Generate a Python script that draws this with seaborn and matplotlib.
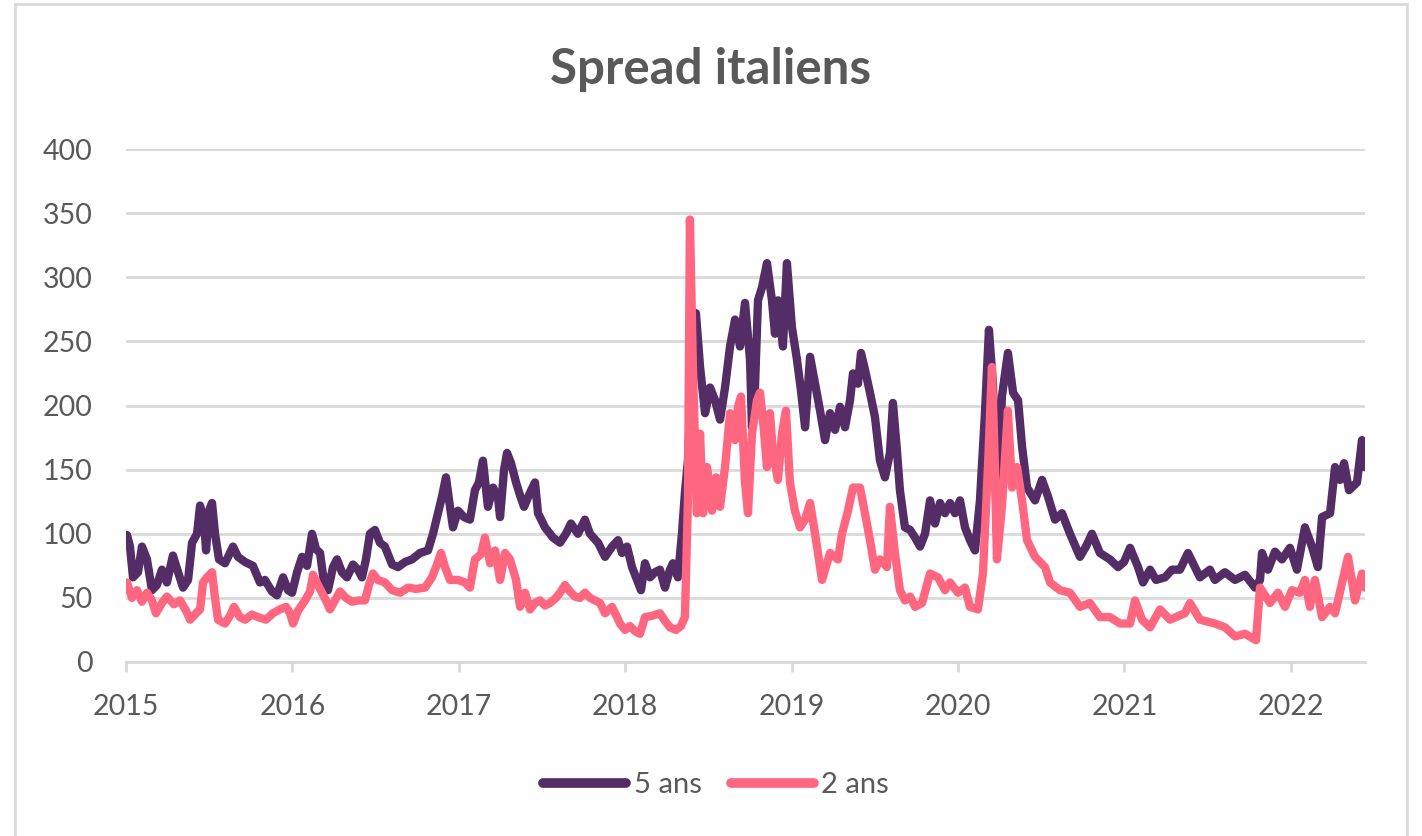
import numpy as np
import pandas as pd
import matplotlib
matplotlib.use("Agg")
import matplotlib.pyplot as plt
import seaborn as sns
from matplotlib.patches import Rectangle

# --- Données (temps en années depuis janv. 2015) ---
t_5ans = [0.006, 0.024, 0.042, 0.072, 0.096, 0.126, 0.156, 0.186, 0.216, 0.246,
          0.282, 0.313, 0.343, 0.373, 0.397, 0.427, 0.445, 0.469, 0.481, 0.499,
          0.517, 0.535, 0.559, 0.595, 0.643, 0.673, 0.715, 0.763, 0.805, 0.835,
          0.877, 0.907, 0.944, 0.974, 0.998, 1.028, 1.058, 1.088, 1.118, 1.142,
          1.166, 1.190, 1.214, 1.244, 1.268, 1.298, 1.328, 1.364, 1.394, 1.418,
          1.442, 1.466, 1.496, 1.526, 1.556, 1.599, 1.635, 1.677, 1.719, 1.767,
          1.815, 1.845, 1.869, 1.899, 1.923, 1.947, 1.965, 1.995, 2.031, 2.067,
          2.097, 2.121, 2.145, 2.175, 2.206, 2.236, 2.248, 2.272, 2.290, 2.314,
          2.344, 2.368, 2.392, 2.428, 2.458, 2.476, 2.518, 2.566, 2.608, 2.644,
          2.674, 2.716, 2.758, 2.788, 2.837, 2.879, 2.921, 2.957, 2.981, 3.011,
          3.041, 3.077, 3.095, 3.119, 3.149, 3.179, 3.209, 3.239, 3.269, 3.287,
          3.317, 3.341, 3.359, 3.377, 3.401, 3.425, 3.450, 3.480, 3.510, 3.540,
          3.570, 3.600, 3.630, 3.660, 3.690, 3.720, 3.750, 3.762, 3.780, 3.798,
          3.822, 3.852, 3.882, 3.900, 3.918, 3.948, 3.972, 4.002, 4.032, 4.056,
          4.081, 4.111, 4.141, 4.171, 4.201, 4.231, 4.261, 4.291, 4.321, 4.351,
          4.369, 4.399, 4.417, 4.441, 4.471, 4.501, 4.531, 4.561, 4.591, 4.609,
          4.633, 4.651, 4.681, 4.712, 4.742, 4.772, 4.802, 4.832, 4.862, 4.892,
          4.922, 4.952, 4.982, 5.012, 5.042, 5.072, 5.102, 5.132, 5.162, 5.186,
          5.210, 5.234, 5.264, 5.300, 5.331, 5.361, 5.385, 5.415, 5.463, 5.505,
          5.541, 5.583, 5.625, 5.673, 5.733, 5.769, 5.805, 5.853, 5.913, 5.962,
          5.998, 6.034, 6.082, 6.112, 6.154, 6.190, 6.244, 6.286, 6.334, 6.382,
          6.424, 6.454, 6.514, 6.544, 6.604, 6.665, 6.725, 6.785, 6.815, 6.827,
          6.863, 6.905, 6.947, 6.995, 7.037, 7.085, 7.127, 7.163, 7.188, 7.236,
          7.266, 7.296, 7.320, 7.350, 7.398, 7.428, 7.446]
v_5ans = [99, 90, 66, 70, 90, 80, 56, 60, 72, 62,
          83, 70, 58, 64, 93, 100, 122, 110, 87, 118,
          124, 100, 80, 77, 90, 82, 78, 75, 62, 64,
          55, 52, 66, 56, 54, 70, 82, 75, 100, 88,
          85, 62, 56, 74, 80, 70, 66, 76, 72, 66,
          80, 100, 103, 93, 90, 76, 74, 78, 80, 85,
          87, 100, 113, 129, 144, 121, 105, 118, 113, 111,
          134, 140, 157, 121, 136, 128, 113, 150, 163, 155,
          140, 130, 121, 132, 140, 116, 105, 97, 93, 100,
          108, 100, 111, 100, 93, 82, 90, 95, 85, 90,
          74, 62, 56, 77, 66, 70, 72, 58, 72, 77,
          66, 100, 132, 157, 230, 272, 230, 194, 214, 204,
          189, 214, 246, 267, 246, 280, 236, 183, 214, 282,
          292, 311, 282, 256, 282, 246, 311, 261, 236, 212,
          183, 238, 217, 196, 173, 194, 181, 199, 183, 204,
          225, 217, 241, 228, 210, 191, 157, 144, 163, 202,
          165, 134, 105, 103, 97, 90, 100, 126, 108, 124,
          116, 124, 116, 126, 105, 95, 87, 126, 194, 259,
          217, 100, 207, 241, 210, 204, 168, 136, 126, 142,
          129, 111, 116, 100, 82, 90, 100, 85, 80, 74,
          78, 89, 74, 62, 72, 64, 66, 72, 72, 85,
          74, 66, 72, 64, 70, 64, 68, 58, 64, 85,
          72, 86, 80, 89, 72, 105, 90, 74, 113, 116,
          152, 142, 155, 134, 140, 173, 152]

t_2ans = [0.006, 0.036, 0.066, 0.096, 0.126, 0.156, 0.180, 0.216, 0.246, 0.288,
          0.325, 0.361, 0.385, 0.421, 0.445, 0.463, 0.487, 0.517, 0.535, 0.553,
          0.595, 0.625, 0.649, 0.685, 0.715, 0.757, 0.793, 0.841, 0.883, 0.925,
          0.962, 0.986, 1.004, 1.034, 1.076, 1.106, 1.124, 1.154, 1.178, 1.202,
          1.226, 1.256, 1.286, 1.322, 1.358, 1.394, 1.436, 1.460, 1.484, 1.514,
          1.556, 1.599, 1.647, 1.695, 1.743, 1.797, 1.839, 1.869, 1.893, 1.917,
          1.947, 1.995, 2.037, 2.067, 2.097, 2.133, 2.157, 2.188, 2.218, 2.248,
          2.278, 2.308, 2.344, 2.368, 2.398, 2.428, 2.458, 2.488, 2.518, 2.548,
          2.584, 2.608, 2.638, 2.668, 2.698, 2.728, 2.758, 2.788, 2.818, 2.849,
          2.879, 2.921, 2.951, 2.969, 2.999, 3.029, 3.059, 3.089, 3.119, 3.161,
          3.209, 3.239, 3.269, 3.305, 3.335, 3.359, 3.377, 3.389, 3.407, 3.431,
          3.450, 3.468, 3.492, 3.522, 3.546, 3.570, 3.600, 3.630, 3.660, 3.678,
          3.696, 3.720, 3.738, 3.762, 3.792, 3.810, 3.828, 3.852, 3.870, 3.888,
          3.918, 3.942, 3.966, 3.990, 4.020, 4.050, 4.081, 4.111, 4.141, 4.183,
          4.231, 4.279, 4.303, 4.339, 4.369, 4.411, 4.441, 4.471, 4.501, 4.531,
          4.573, 4.591, 4.621, 4.651, 4.681, 4.712, 4.742, 4.784, 4.832, 4.880,
          4.922, 4.952, 5.000, 5.042, 5.072, 5.120, 5.150, 5.180, 5.204, 5.222,
          5.234, 5.264, 5.300, 5.325, 5.355, 5.385, 5.415, 5.463, 5.523, 5.553,
          5.613, 5.673, 5.733, 5.793, 5.853, 5.913, 5.974, 6.034, 6.064, 6.106,
          6.154, 6.214, 6.274, 6.364, 6.394, 6.454, 6.544, 6.605, 6.665, 6.725,
          6.791, 6.815, 6.875, 6.923, 6.965, 7.007, 7.055, 7.085, 7.115, 7.145,
          7.188, 7.236, 7.266, 7.344, 7.386, 7.428, 7.446]
v_2ans = [62, 50, 56, 47, 54, 48, 38, 46, 51, 45,
          48, 40, 33, 38, 41, 62, 66, 70, 50, 33,
          30, 36, 43, 35, 33, 37, 35, 33, 38, 41,
          43, 38, 30, 40, 48, 55, 68, 60, 54, 48,
          41, 48, 55, 50, 47, 48, 48, 60, 69, 64,
          62, 56, 54, 58, 57, 58, 66, 76, 85, 74,
          64, 64, 62, 58, 80, 84, 97, 77, 87, 64,
          85, 80, 64, 43, 54, 41, 46, 48, 44, 46,
          50, 54, 60, 55, 51, 50, 54, 50, 48, 46,
          38, 43, 35, 30, 25, 28, 24, 22, 35, 36,
          38, 32, 27, 25, 28, 35, 126, 345, 230, 116,
          178, 116, 152, 118, 144, 121, 152, 194, 173, 199,
          207, 140, 116, 178, 204, 210, 189, 152, 194, 163,
          142, 178, 196, 140, 118, 105, 111, 124, 100, 64,
          85, 80, 100, 118, 136, 136, 116, 95, 72, 80,
          74, 121, 85, 56, 48, 51, 43, 46, 69, 66,
          56, 62, 54, 58, 43, 41, 69, 152, 230, 152,
          80, 121, 196, 136, 152, 126, 95, 82, 74, 62,
          56, 54, 43, 46, 35, 35, 30, 30, 48, 33,
          27, 41, 33, 38, 46, 33, 30, 27, 20, 22,
          17, 58, 46, 54, 43, 56, 54, 64, 43, 64,
          35, 43, 38, 82, 48, 69, 58]

series = ['5 ans', '2 ans']
couleurs = ['#542c66', '#ff6680']
annees = [2015, 2016, 2017, 2018, 2019, 2020, 2021, 2022]

df = pd.concat([
    pd.DataFrame({'annee': 2015 + np.array(t_5ans), 'spread': v_5ans, 'serie': '5 ans'}),
    pd.DataFrame({'annee': 2015 + np.array(t_2ans), 'spread': v_2ans, 'serie': '2 ans'}),
], ignore_index=True)

# --- Graphique ---
sns.set_theme(style='white')
plt.rcParams['font.family'] = ['Lato', 'DejaVu Sans']
gris_texte = '#595959'
gris_ligne = '#d9d9d9'

fig = plt.figure(figsize=(14.22, 8.36), dpi=100)
ax = fig.add_axes([126 / 1422, 1 - 662 / 836, (1365 - 126) / 1422, (662 - 149) / 836])

sns.lineplot(data=df, x='annee', y='spread', hue='serie', hue_order=series,
             palette=couleurs, linewidth=6, estimator=None, ax=ax,
             solid_capstyle='round', solid_joinstyle='round')

ax.set_xlim(2015, 2015 + t_5ans[-1])
ax.set_ylim(0, 400)
ax.set_yticks(range(0, 401, 50))
ax.set_xticks(annees)
ax.set_xticklabels([str(a) for a in annees])
ax.set_xlabel('')
ax.set_ylabel('')

for s in ['top', 'right', 'left']:
    ax.spines[s].set_visible(False)
ax.spines['bottom'].set_color(gris_ligne)
ax.spines['bottom'].set_linewidth(2)
ax.grid(axis='y', color=gris_ligne, linewidth=2)
ax.grid(axis='x', visible=False)
ax.set_axisbelow(True)
ax.tick_params(axis='y', length=0, pad=24, labelsize=20.5, labelcolor=gris_texte)
ax.tick_params(axis='x', direction='out', length=7, width=2, color=gris_ligne,
               pad=16, labelsize=20.5, labelcolor=gris_texte, bottom=True)

fig.text(0.5, 1 - 70 / 836, 'Spread italiens', ha='center', va='center',
         fontsize=35.5, fontweight='bold', color=gris_texte)

handles, labels = ax.get_legend_handles_labels()
ax.get_legend().remove()
for h in handles:
    h.set_solid_capstyle('round')
    h.set_linewidth(7)
leg = fig.legend(handles, labels, loc='center', bbox_to_anchor=(716 / 1422, 1 - 785 / 836),
                 ncol=2, frameon=False, fontsize=21, handlelength=2.85,
                 handletextpad=0.25, columnspacing=1.0)
for txt in leg.get_texts():
    txt.set_color(gris_texte)

# cadre de la zone du graphique
fig.patches.append(Rectangle((15 / 1422, -0.02), (1407 - 15) / 1422, 1 - 4 / 836 + 0.02,
                             transform=fig.transFigure, fill=False,
                             edgecolor=gris_ligne, linewidth=2))

plt.savefig('out.png', dpi=100)
